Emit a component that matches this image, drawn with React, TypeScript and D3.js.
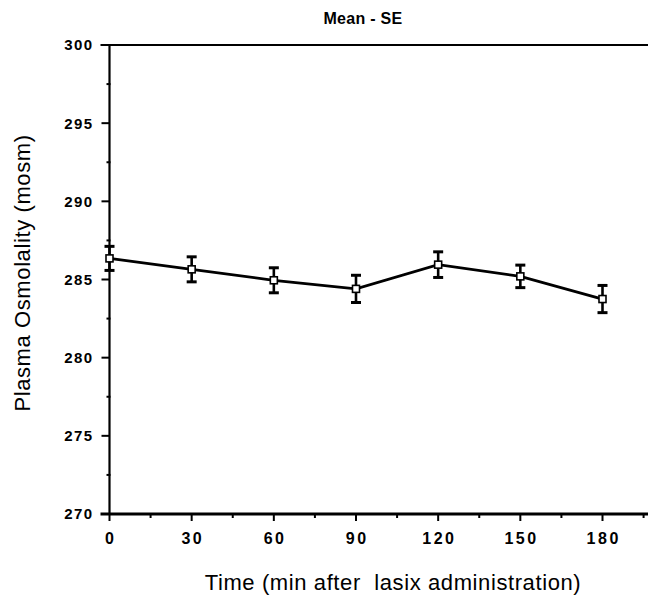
import React from "react";
import * as d3 from "d3";

const times = [0, 30, 60, 90, 120, 150, 180];
const means = [286.35, 285.65, 284.95, 284.4, 285.95, 285.2, 283.75];
const ses = [0.77, 0.8, 0.8, 0.87, 0.82, 0.72, 0.87];
const yTicks = [270, 275, 280, 285, 290, 295, 300];
const yMinor = [272.5, 277.5, 282.5, 287.5, 292.5, 297.5];
const xTicks = [0, 30, 60, 90, 120, 150, 180];
const xMinor = [15, 45, 75, 105, 135, 165, 195];

const W = 648;
const H = 600;

export default function App() {
  const x = d3.scaleLinear().domain([0, 180]).range([109.5, 602.5]);
  const y = d3.scaleLinear().domain([270, 300]).range([514, 45]);
  const line = d3
    .line<number>()
    .x((_, i) => x(times[i]))
    .y((d) => y(d));
  const font = "Arial, 'Liberation Sans', Helvetica, sans-serif";
  const x0 = x(0);
  const yBottom = y(270);
  const yTop = y(300);
  return (
    <svg
      width={W}
      height={H}
      style={{ position: "absolute", left: 0, top: 0, background: "#fff" }}
    >
      <rect x={0} y={0} width={W} height={H} fill="#fff" />
      <text
        x={363}
        y={24}
        textAnchor="middle"
        fontFamily={font}
        fontWeight="bold"
        fontSize={16}
        letterSpacing={0.3}
        fill="#000"
      >
        Mean - SE
      </text>
      <line x1={x0 - 9} x2={W} y1={yTop} y2={yTop} stroke="#000" strokeWidth={2} />
      <line x1={x0} x2={x0} y1={yTop} y2={yBottom} stroke="#000" strokeWidth={2.2} />
      <line x1={x0 - 9} x2={W} y1={yBottom} y2={yBottom} stroke="#000" strokeWidth={2.8} />
      {yTicks.map((t) => (
        <g key={"yt" + t}>
          <line x1={x0 - 8} x2={x0} y1={y(t)} y2={y(t)} stroke="#000" strokeWidth={2} />
          <text
            x={93.5}
            y={y(t)}
            dy="0.36em"
            textAnchor="end"
            fontFamily={font}
            fontWeight="bold"
            fontSize={15}
            letterSpacing={1.4}
            fill="#000"
          >
            {t}
          </text>
        </g>
      ))}
      {yMinor.map((t) => (
        <line key={"ym" + t} x1={x0 - 3} x2={x0 + 1} y1={y(t)} y2={y(t)} stroke="#000" strokeWidth={2} />
      ))}
      {xTicks.map((t) => (
        <g key={"xt" + t}>
          <line x1={x(t)} x2={x(t)} y1={yBottom} y2={yBottom + 7} stroke="#000" strokeWidth={2} />
          <text
            x={x(t) + 1.2}
            y={544}
            textAnchor="middle"
            fontFamily={font}
            fontWeight="bold"
            fontSize={16}
            letterSpacing={2.5}
            fill="#000"
          >
            {t}
          </text>
        </g>
      ))}
      {xMinor.map((t) => (
        <line key={"xm" + t} x1={x(t)} x2={x(t)} y1={yBottom} y2={yBottom + 4} stroke="#000" strokeWidth={2} />
      ))}
      <text
        x={393}
        y={590}
        textAnchor="middle"
        fontFamily={font}
        fontSize={22}
        letterSpacing={0.6}
        fill="#000"
        style={{ whiteSpace: "pre" }}
      >
        {"Time (min after  lasix administration)"}
      </text>
      <text
        transform={`translate(30, 273) rotate(-90)`}
        textAnchor="middle"
        fontFamily={font}
        fontSize={22}
        letterSpacing={0.6}
        fill="#000"
      >
        Plasma Osmolality (mosm)
      </text>
      <path d={line(means) || ""} fill="none" stroke="#000" strokeWidth={2.8} />
      {means.map((m, i) => (
        <g key={"eb" + i}>
          <line x1={x(times[i])} x2={x(times[i])} y1={y(m + ses[i])} y2={y(m - ses[i])} stroke="#000" strokeWidth={2.6} />
          <line x1={x(times[i]) - 5} x2={x(times[i]) + 5} y1={y(m + ses[i])} y2={y(m + ses[i])} stroke="#000" strokeWidth={3} />
          <line x1={x(times[i]) - 5} x2={x(times[i]) + 5} y1={y(m - ses[i])} y2={y(m - ses[i])} stroke="#000" strokeWidth={3} />
        </g>
      ))}
      {means.map((m, i) => (
        <rect
          key={"mk" + i}
          x={x(times[i]) - 3.5}
          y={y(m) - 3.5}
          width={7}
          height={7}
          fill="#fff"
          stroke="#000"
          strokeWidth={1.6}
        />
      ))}
    </svg>
  );
}
